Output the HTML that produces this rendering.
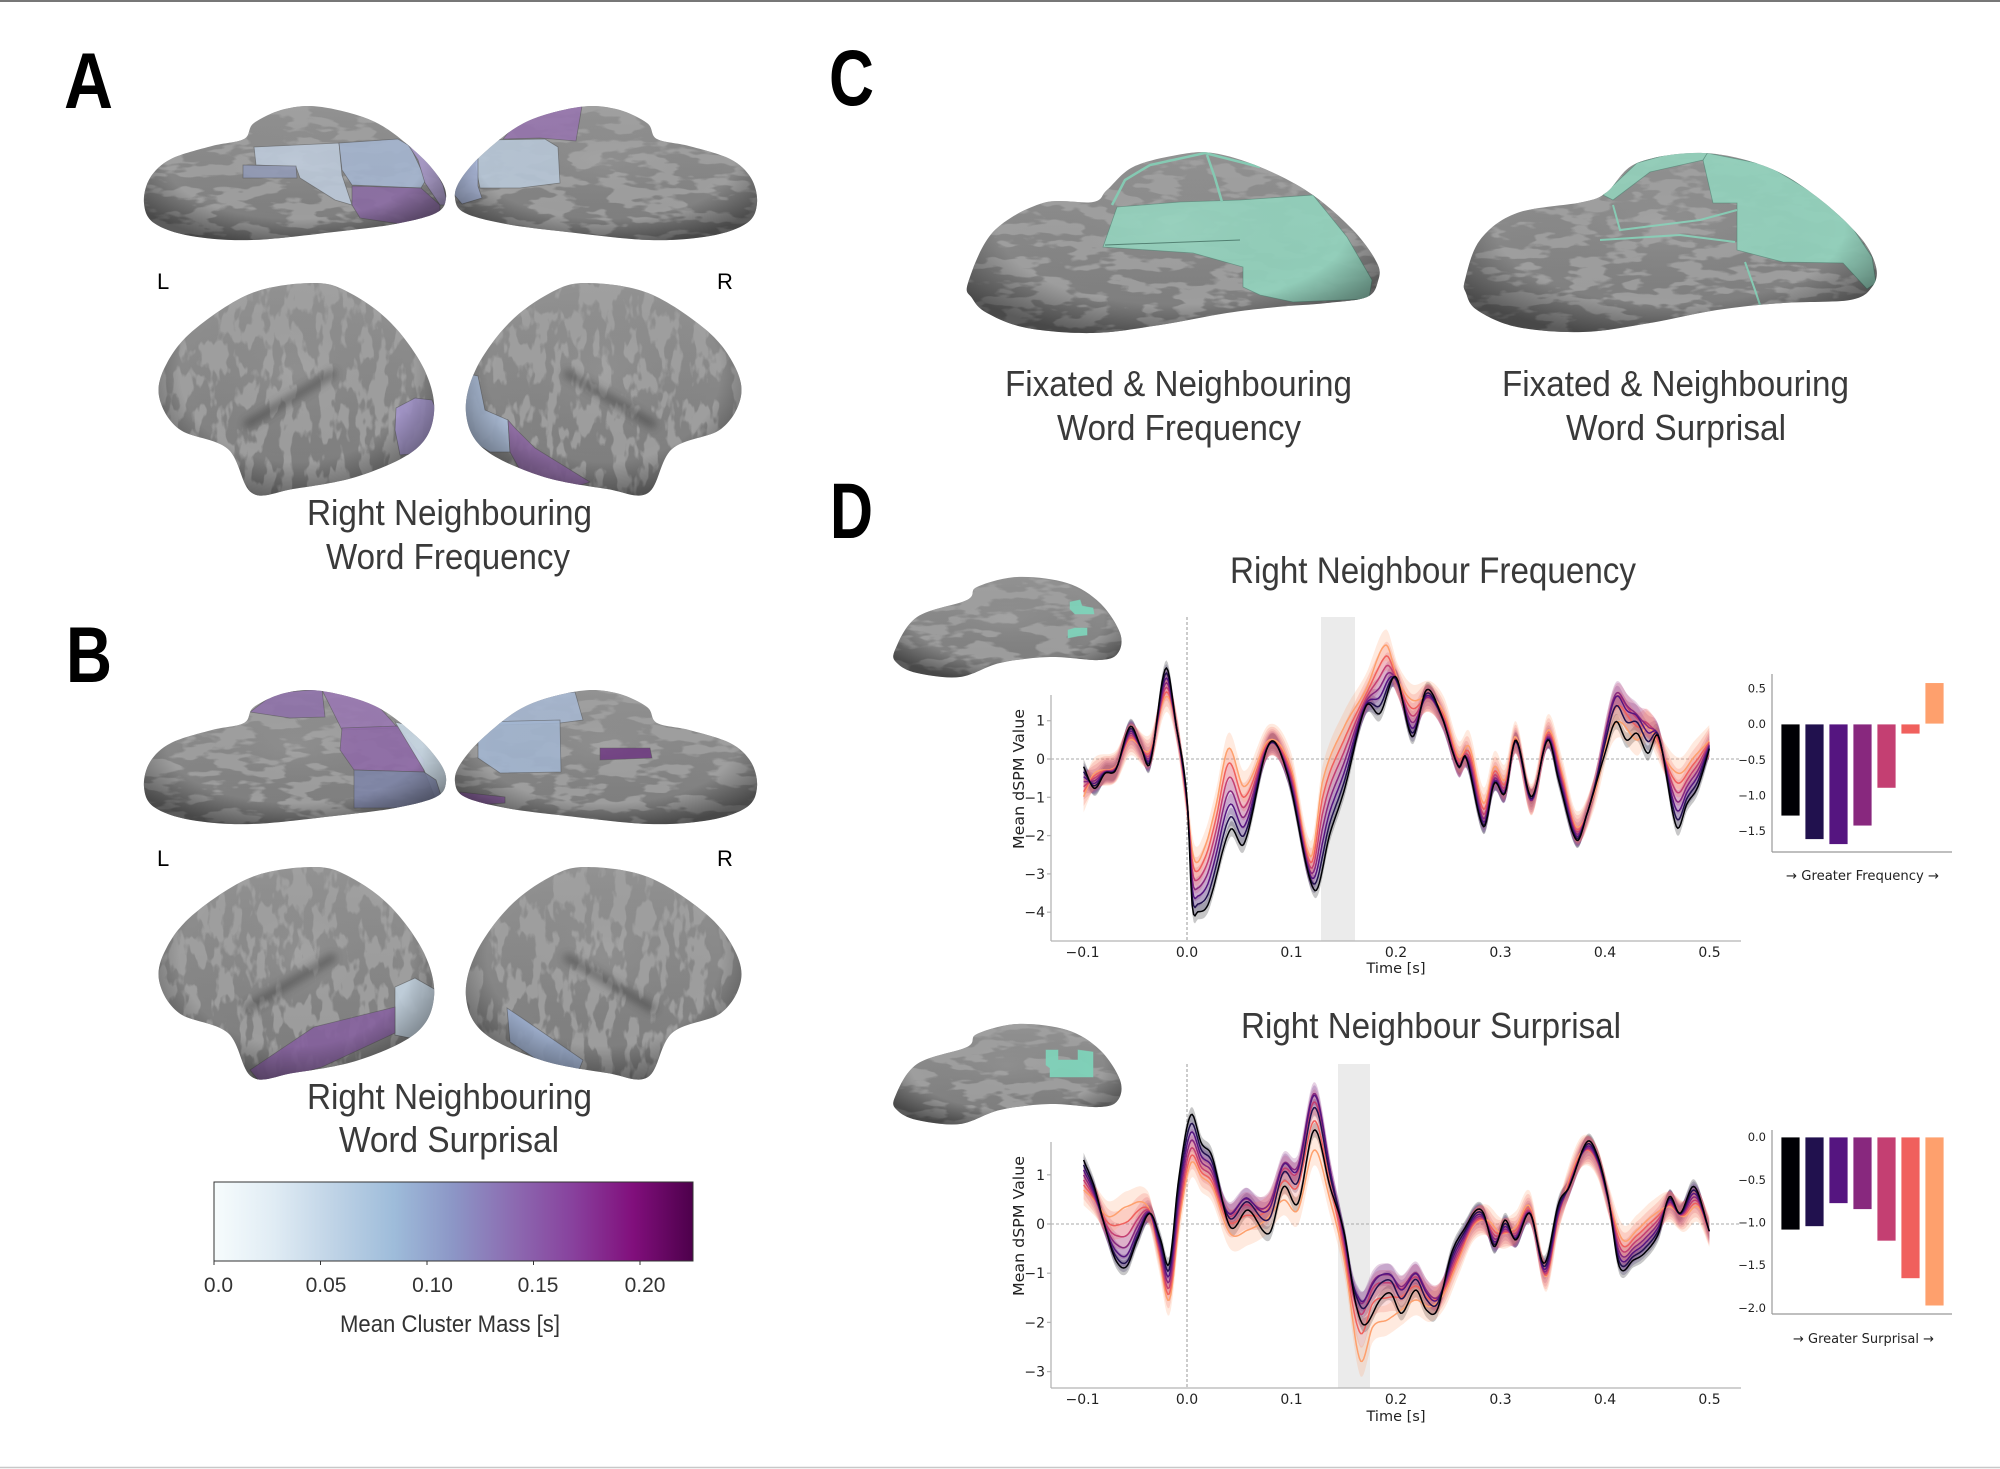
<!DOCTYPE html>
<html><head><meta charset="utf-8">
<style>html,body{margin:0;padding:0;background:#fff}svg{display:block}</style>
</head>
<body>
<svg id="s" xmlns="http://www.w3.org/2000/svg" width="2000" height="1469" viewBox="0 0 2000 1469">
<defs id="defs">
 <linearGradient id="bupu" x1="0" x2="1" y1="0" y2="0">
  <stop offset="0" stop-color="#f7fcfd"/><stop offset="0.125" stop-color="#e0ecf4"/>
  <stop offset="0.25" stop-color="#bfd3e6"/><stop offset="0.375" stop-color="#9ebcda"/>
  <stop offset="0.5" stop-color="#8c96c6"/><stop offset="0.625" stop-color="#8c6bb1"/>
  <stop offset="0.75" stop-color="#88419d"/><stop offset="0.875" stop-color="#810f7c"/>
  <stop offset="1" stop-color="#4d004b"/>
 </linearGradient>
 <linearGradient id="gb" x1="0" y1="0" x2="0" y2="1"><stop offset="0" stop-color="#929292"/><stop offset="1" stop-color="#7b7b7b"/></linearGradient>
 <radialGradient id="sh" cx="0.5" cy="0.42" r="0.62"><stop offset="0" stop-color="#fff" stop-opacity="0.05"/><stop offset="0.68" stop-color="#000" stop-opacity="0"/><stop offset="1" stop-color="#000" stop-opacity="0.42"/></radialGradient>
 <filter id="tx1" x="-5%" y="-5%" width="110%" height="110%"><feTurbulence type="fractalNoise" baseFrequency="0.028 0.085" numOctaves="3" seed="3"/><feColorMatrix type="matrix" values="0 0 0 0 0.37  0 0 0 0 0.37  0 0 0 0 0.37  11 0 0 0 -5.3"/><feComposite in2="SourceGraphic" operator="in"/></filter>
 <filter id="tx2" x="-5%" y="-5%" width="110%" height="110%"><feTurbulence type="fractalNoise" baseFrequency="0.075 0.032" numOctaves="3" seed="11"/><feColorMatrix type="matrix" values="0 0 0 0 0.37  0 0 0 0 0.37  0 0 0 0 0.37  11 0 0 0 -5.3"/><feComposite in2="SourceGraphic" operator="in"/></filter>
 <filter id="bl" x="-30%" y="-30%" width="160%" height="160%"><feGaussianBlur stdDeviation="4"/></filter>
</defs>
<rect x="0" y="0" width="2000" height="1469" fill="#fff"/>
<line x1="0" y1="1" x2="2000" y2="1" stroke="#777" stroke-width="2"/>
<line x1="0" y1="1467.5" x2="2000" y2="1467.5" stroke="#c8c8c8" stroke-width="1.5"/>

<g id="brains"></g>

<!-- panel letters -->
<g font-family="Liberation Sans, Arial, sans-serif" font-weight="bold" fill="#000" font-size="79">
 <text x="64" y="108" textLength="49" lengthAdjust="spacingAndGlyphs">A</text>
 <text x="66" y="682" textLength="46" lengthAdjust="spacingAndGlyphs">B</text>
 <text x="829" y="105" textLength="45" lengthAdjust="spacingAndGlyphs">C</text>
 <text x="830" y="538" textLength="43" lengthAdjust="spacingAndGlyphs">D</text>
</g>
<g font-family="Liberation Sans, Arial, sans-serif" fill="#000" font-size="22">
 <text x="157" y="289">L</text><text x="717" y="289">R</text>
 <text x="157" y="866">L</text><text x="717" y="866">R</text>
</g>
<g font-family="Liberation Sans, Arial, sans-serif" fill="#3a3a3a" font-size="36">
 <text x="307" y="525" textLength="285" lengthAdjust="spacingAndGlyphs">Right Neighbouring</text>
 <text x="326" y="569" textLength="244" lengthAdjust="spacingAndGlyphs">Word Frequency</text>
 <text x="307" y="1109" textLength="285" lengthAdjust="spacingAndGlyphs">Right Neighbouring</text>
 <text x="339" y="1152" textLength="220" lengthAdjust="spacingAndGlyphs">Word Surprisal</text>
 <text x="1005" y="396" textLength="347" lengthAdjust="spacingAndGlyphs">Fixated &amp; Neighbouring</text>
 <text x="1057" y="440" textLength="244" lengthAdjust="spacingAndGlyphs">Word Frequency</text>
 <text x="1502" y="396" textLength="347" lengthAdjust="spacingAndGlyphs">Fixated &amp; Neighbouring</text>
 <text x="1566" y="440" textLength="220" lengthAdjust="spacingAndGlyphs">Word Surprisal</text>
 <text x="1230" y="583" font-size="37" textLength="406" lengthAdjust="spacingAndGlyphs">Right Neighbour Frequency</text>
 <text x="1241" y="1038" font-size="36" textLength="380" lengthAdjust="spacingAndGlyphs">Right Neighbour Surprisal</text>
</g>

<!-- colorbar -->
<rect x="214" y="1182" width="479" height="79" fill="url(#bupu)" stroke="#333" stroke-width="1"/>
<g stroke="#333" stroke-width="1">
 <line x1="214" y1="1261" x2="214" y2="1265"/><line x1="320.5" y1="1261" x2="320.5" y2="1265"/>
 <line x1="427" y1="1261" x2="427" y2="1265"/><line x1="533.5" y1="1261" x2="533.5" y2="1265"/>
 <line x1="640" y1="1261" x2="640" y2="1265"/>
</g>
<g font-family="Liberation Sans, Arial, sans-serif" fill="#333" font-size="21" text-anchor="middle">
 <text x="218.5" y="1292">0.0</text><text x="326" y="1292">0.05</text><text x="432.5" y="1292">0.10</text>
 <text x="538" y="1292">0.15</text><text x="645" y="1292">0.20</text>
</g>
<text x="340" y="1332" font-family="Liberation Sans, Arial, sans-serif" fill="#333" font-size="24" textLength="220" lengthAdjust="spacingAndGlyphs">Mean Cluster Mass [s]</text>

<!-- top chart -->
<rect x="1321" y="617" width="34" height="324" fill="#ebebeb"/>
<line x1="1187" y1="617" x2="1187" y2="941" stroke="#999" stroke-width="1" stroke-dasharray="3,2"/>
<line x1="1051" y1="759" x2="1741" y2="759" stroke="#aaa" stroke-width="1" stroke-dasharray="3,2"/>
<g id="curvesTop"></g>
<g stroke="#b5b5b5" stroke-width="1.3" fill="none">
 <line x1="1051" y1="695" x2="1051" y2="941"/><line x1="1051" y1="941" x2="1741" y2="941"/>
 <line x1="1047" y1="720.7" x2="1051" y2="720.7"/><line x1="1047" y1="759" x2="1051" y2="759"/>
 <line x1="1047" y1="797.3" x2="1051" y2="797.3"/><line x1="1047" y1="835.6" x2="1051" y2="835.6"/>
 <line x1="1047" y1="873.9" x2="1051" y2="873.9"/><line x1="1047" y1="912.2" x2="1051" y2="912.2"/>
</g>
<g font-family="DejaVu Sans, Liberation Sans, sans-serif" fill="#222" font-size="14">
 <g text-anchor="end">
  <text x="1045" y="725.7">1</text><text x="1045" y="764">0</text><text x="1045" y="802.3">−1</text>
  <text x="1045" y="840.6">−2</text><text x="1045" y="878.9">−3</text><text x="1045" y="917.2">−4</text>
 </g>
 <g text-anchor="middle">
  <text x="1082.5" y="957">−0.1</text><text x="1187" y="957">0.0</text><text x="1291.5" y="957">0.1</text>
  <text x="1396" y="957">0.2</text><text x="1500.5" y="957">0.3</text><text x="1605" y="957">0.4</text><text x="1709.5" y="957">0.5</text>
  <text x="1396" y="973" font-size="14.5">Time [s]</text>
 </g>
 <text transform="translate(1024,779) rotate(-90)" x="-70" y="0" font-size="15" textLength="140" lengthAdjust="spacingAndGlyphs">Mean dSPM Value</text>
</g>

<!-- bottom chart -->
<rect x="1338" y="1064" width="32" height="324" fill="#ebebeb"/>
<line x1="1187" y1="1064" x2="1187" y2="1388" stroke="#999" stroke-width="1" stroke-dasharray="3,2"/>
<line x1="1051" y1="1224" x2="1741" y2="1224" stroke="#aaa" stroke-width="1" stroke-dasharray="3,2"/>
<g id="curvesBot"></g>
<g stroke="#b5b5b5" stroke-width="1.3" fill="none">
 <line x1="1051" y1="1142" x2="1051" y2="1388"/><line x1="1051" y1="1388" x2="1741" y2="1388"/>
 <line x1="1047" y1="1174.8" x2="1051" y2="1174.8"/><line x1="1047" y1="1224" x2="1051" y2="1224"/>
 <line x1="1047" y1="1273.2" x2="1051" y2="1273.2"/><line x1="1047" y1="1322.4" x2="1051" y2="1322.4"/>
 <line x1="1047" y1="1371.6" x2="1051" y2="1371.6"/>
</g>
<g font-family="DejaVu Sans, Liberation Sans, sans-serif" fill="#222" font-size="14">
 <g text-anchor="end">
  <text x="1045" y="1179.8">1</text><text x="1045" y="1229">0</text><text x="1045" y="1278.2">−1</text>
  <text x="1045" y="1327.4">−2</text><text x="1045" y="1376.6">−3</text>
 </g>
 <g text-anchor="middle">
  <text x="1082.5" y="1404">−0.1</text><text x="1187" y="1404">0.0</text><text x="1291.5" y="1404">0.1</text>
  <text x="1396" y="1404">0.2</text><text x="1500.5" y="1404">0.3</text><text x="1605" y="1404">0.4</text><text x="1709.5" y="1404">0.5</text>
  <text x="1396" y="1421" font-size="14.5">Time [s]</text>
 </g>
 <text transform="translate(1024,1226) rotate(-90)" x="-70" y="0" font-size="15" textLength="140" lengthAdjust="spacingAndGlyphs">Mean dSPM Value</text>
</g>

<!-- bar insets -->
<g id="bars"></g>
<g stroke="#999" stroke-width="1.2" fill="none">
 <line x1="1772" y1="674" x2="1772" y2="852"/><line x1="1772" y1="852" x2="1952" y2="852"/>
 <line x1="1772" y1="1130" x2="1772" y2="1314"/><line x1="1772" y1="1314" x2="1952" y2="1314"/>
</g>
<g font-family="DejaVu Sans, Liberation Sans, sans-serif" fill="#222" font-size="11.5" text-anchor="end">
 <text x="1766" y="692.5">0.5</text><text x="1766" y="728.2">0.0</text><text x="1766" y="763.9">−0.5</text>
 <text x="1766" y="799.5">−1.0</text><text x="1766" y="835.2">−1.5</text>
 <text x="1766" y="1141.2">0.0</text><text x="1766" y="1183.9">−0.5</text><text x="1766" y="1226.5">−1.0</text>
 <text x="1766" y="1269.2">−1.5</text><text x="1766" y="1311.8">−2.0</text>
</g>
<g font-family="DejaVu Sans, Liberation Sans, sans-serif" fill="#222" font-size="13">
 <text x="1786" y="880" textLength="153" lengthAdjust="spacingAndGlyphs">→ Greater Frequency →</text>
 <text x="1793" y="1343" textLength="141" lengthAdjust="spacingAndGlyphs">→ Greater Surprisal →</text>
</g>
</svg>

<script>
(function(){
var NS='http://www.w3.org/2000/svg';
var defs=document.getElementById('defs');
function el(tag,attrs,parent){var e=document.createElementNS(NS,tag);for(var k in attrs)e.setAttribute(k,attrs[k]);parent.appendChild(e);return e;}
var cols=['#000004','#21114e','#551580','#88287e','#c43f72','#f0605d','#fea06d'];

/* ---------- curves ---------- */
function slope(p,j){var n=p.length;if(j<=0)return (p[1][1]-p[0][1])/(p[1][0]-p[0][0]);if(j>=n-1)return (p[n-1][1]-p[n-2][1])/(p[n-1][0]-p[n-2][0]);return (p[j+1][1]-p[j-1][1])/(p[j+1][0]-p[j-1][0]);}
function interp(p,x){var n=p.length;if(x<=p[0][0])return p[0][1];if(x>=p[n-1][0])return p[n-1][1];var i=0;while(p[i+1][0]<x)i++;
 var x0=p[i][0],x1=p[i+1][0],y0=p[i][1],y1=p[i+1][1],h=x1-x0,s=(x-x0)/h,m0=slope(p,i)*h,m1=slope(p,i+1)*h;
 var s2=s*s,s3=s2*s;return (2*s3-3*s2+1)*y0+(s3-2*s2+s)*m0+(-2*s3+3*s2)*y1+(s3-s2)*m1;}
function chart(gid,D,L,B,y0,hwB,hwS){
 var g=document.getElementById(gid);var xs=[];for(var x=285;x<=1162;x+=2)xs.push(x);
 var dv=xs.map(function(x){return interp(D,x)}),lv=xs.map(function(x){return interp(L,x)}),bv=xs.map(function(x){return interp(B,x)});
 var ser=[];for(var k=0;k<7;k++){var s=k/6;ser.push(xs.map(function(x,i){return dv[i]+s*(lv[i]-dv[i])+4*s*(1-s)*bv[i];}));}
 function P(x,y){return (880+x/1.4).toFixed(1)+','+(y0+y/3).toFixed(1);}
 for(var k=0;k<7;k++){var hw=hwB+hwS*k,up=[],dn=[];for(var i=0;i<xs.length;i++){up.push(P(xs[i],ser[k][i]-hw));dn.push(P(xs[i],ser[k][i]+hw));}
  el('path',{d:'M'+up.join('L')+'L'+dn.reverse().join('L')+'Z',fill:cols[k],'fill-opacity':0.22},g);}
 for(var k=6;k>=0;k--){var pts=[];for(var i=0;i<xs.length;i++)pts.push(P(xs[i],ser[k][i]));
  el('path',{d:'M'+pts.join('L'),fill:'none',stroke:cols[k],'stroke-width':1.5,'stroke-linejoin':'round'},g);}
}
var TD=[[285,680],[300,745],[315,700],[330,690],[350,560],[365,620],[378,670],[400,385],[415,560],[430,780],[437,1095],[445,1115],[460,1090],[490,870],[510,910],[545,610],[570,700],[608,1050],[630,880],[650,750],[680,500],[700,520],[722,410],[745,590],[765,450],[785,520],[810,680],[820,650],[845,860],[860,730],[875,760],[890,600],[912,770],[935,600],[950,720],[975,900],[990,820],[1015,640],[1030,545],[1045,600],[1060,580],[1075,640],[1090,590],[1115,860],[1130,790],[1145,740],[1162,620]];
var TL=[[285,770],[300,700],[330,680],[350,600],[378,630],[400,470],[415,560],[430,800],[440,960],[455,920],[470,800],[488,625],[510,740],[545,600],[575,680],[603,950],[620,720],[650,560],[680,450],[708,315],[725,420],[745,480],[770,470],[790,520],[810,650],[825,620],[845,790],[860,680],[875,720],[890,590],[912,780],[935,570],[955,700],[975,860],[1000,760],[1020,590],[1035,545],[1060,600],[1075,560],[1100,660],[1120,700],[1140,650],[1162,600]];
var TB=[[285,0],[990,0],[1035,-90],[1075,-40],[1100,0],[1162,0]];
var BD=[[285,480],[300,560],[315,680],[330,780],[345,800],[360,720],[378,640],[393,720],[405,790],[418,540],[435,345],[450,430],[465,470],[490,680],[515,630],[545,700],[565,560],[585,610],[608,390],[630,560],[650,700],[665,900],[678,975],[700,900],[715,880],[730,940],[750,870],[765,930],[780,930],[800,760],[820,680],[835,630],[845,640],[860,740],[875,660],[890,720],[910,640],[930,790],[950,610],[965,560],[990,425],[1005,470],[1020,600],[1035,800],[1055,780],[1070,760],[1090,700],[1105,590],[1120,640],[1140,560],[1162,700]];
var BL=[[285,570],[300,600],[320,650],[345,620],[375,620],[390,760],[405,900],[420,650],[435,490],[450,530],[465,560],[490,700],[515,690],[540,660],[565,600],[585,630],[608,450],[630,600],[650,780],[672,1080],[690,980],[710,960],[730,930],[750,900],[770,920],[790,880],[810,780],[830,680],[850,660],[870,700],[890,680],[910,620],[932,830],[950,650],[975,480],[990,450],[1005,490],[1020,600],[1040,720],[1060,690],[1080,650],[1105,620],[1125,650],[1145,620],[1162,700]];
var BB=[[285,0],[330,20],[345,30],[380,0],[470,0],[500,-70],[530,-50],[565,-90],[608,-140],[640,-40],[655,-20],[672,-110],[690,-115],[730,-75],[760,-60],[800,0],[1162,0]];
chart('curvesTop',TD,TL,TB,540,23,4);
chart('curvesBot',BD,BL,BB,1000,22,4);

/* ---------- bars ---------- */
var bg=document.getElementById('bars');var bx=[1781,1805,1829,1853,1877,1901,1925];
var tv=[-1.29,-1.62,-1.69,-1.43,-0.90,-0.14,0.58],bvv=[-1.09,-1.05,-0.78,-0.85,-1.22,-1.66,-1.98];
for(var i=0;i<7;i++){
 var z=724,sc=71.3,v=tv[i];el('rect',{x:bx[i],y:v<0?z:z-v*sc,width:19,height:Math.abs(v)*sc,fill:cols[i],stroke:'#fff','stroke-width':0.8},bg);
 z=1137;sc=85.3;v=bvv[i];el('rect',{x:bx[i],y:z,width:19,height:Math.abs(v)*sc,fill:cols[i],stroke:'#fff','stroke-width':0.8},bg);
}

/* ---------- brains ---------- */
var layer=document.getElementById('brains');var bid=0;
function f(v){return v.toFixed(1);}
function cr(p){var n=p.length,d='M'+p[0][0]+','+p[0][1];for(var i=0;i<n;i++){var p0=p[(i-1+n)%n],p1=p[i],p2=p[(i+1)%n],p3=p[(i+2)%n];
 d+='C'+f(p1[0]+(p2[0]-p0[0])/6)+','+f(p1[1]+(p2[1]-p0[1])/6)+' '+f(p2[0]-(p3[0]-p1[0])/6)+','+f(p2[1]-(p3[1]-p1[1])/6)+' '+p2[0]+','+p2[1];}return d+'Z';}
function brain(pts,regions,tex,creases){
 var d=cr(pts),id='cb'+(bid++);var g=el('g',{},layer);
 var cp=el('clipPath',{id:id},defs);el('path',{d:d},cp);
 el('path',{d:d,fill:'url(#gb)'},g);
 el('path',{d:d,fill:'#000',filter:'url(#'+(tex||'tx1')+')',opacity:0.85},g);
 var rg=el('g',{'clip-path':'url(#'+id+')'},g);
 (creases||[]).forEach(function(c){el('path',{d:c,fill:'none',stroke:'#333','stroke-width':9,'stroke-linecap':'round',opacity:0.45,filter:'url(#bl)'},rg);});
 (regions||[]).forEach(function(r){
  if(r.line)el('path',{d:r.line,fill:'none',stroke:r.c,'stroke-width':r.w||2},rg);
  else el('polygon',{points:r.p.map(function(q){return q.join(',')}).join(' '),fill:r.c,'fill-opacity':r.o||0.88,stroke:r.s||'#555','stroke-width':0.8,'stroke-opacity':0.6},rg);
 });
 el('path',{d:d,fill:'url(#sh)'},g);
}
function mx(p,c){return p.map(function(q){return [c-q[0],q[1]]});}
function sy(p,dy){return p.map(function(q){return [q[0],q[1]+dy]});}
function crL(dy){return 'M'+(332)+','+(958+dy)+' Q292,'+(982+dy)+' 248,'+(1008+dy);}
function crR(dy){return 'M'+(568)+','+(958+dy)+' Q608,'+(982+dy)+' 652,'+(1008+dy);}

var TOPL=[[144,787],[150,762],[171,743],[212,730],[244,723],[254,707],[285,693],[322,691],[375,706],[416,736],[440,763],[446,782],[436,797],[395,808],[334,816],[252,824],[191,820],[154,807]];
var LATL=[[159,980],[179,1013],[228,1033],[252,1077],[293,1073],[359,1060],[416,1033],[434,997],[424,953],[391,907],[350,877],[314,867],[252,877],[195,913],[167,947]];

/* Panel A */
brain(sy(TOPL,-584),[
 {p:[[254,147],[339,143],[342,175],[352,205],[335,200],[300,178],[296,167],[256,165]],c:'#bdcbdc'},
 {p:[[339,143],[398,139],[410,146],[426,180],[421,188],[352,185],[342,170]],c:'#a5b6d1'},
 {p:[[243,165],[296,166],[297,178],[243,178]],c:'#8f98b6'},
 {p:[[352,186],[421,188],[440,205],[440,222],[400,224],[360,218],[352,205]],c:'#8a6aa3'},
 {p:[[405,140],[425,150],[443,185],[448,205],[440,205],[425,183],[418,160]],c:'#a998ca'}
],'tx1');
brain(mx(sy(TOPL,-584),901),[
 {p:[[503,139],[520,118],[550,106],[582,106],[576,141],[540,138]],c:'#9674ae'},
 {p:[[480,140],[545,139],[558,147],[560,183],[520,188],[480,188],[475,165]],c:'#b8c8da'},
 {p:[[450,165],[478,148],[478,186],[482,198],[462,204],[450,190]],c:'#a7b5d8'}
],'tx1');
brain(sy(LATL,-584),[
 {p:[[396,408],[415,398],[432,400],[445,430],[432,452],[400,455],[395,430]],c:'#a394cc'}
],'tx2',[crL(-584)]);
brain(mx(sy(LATL,-584),900),[
 {p:[[460,372],[478,376],[485,410],[508,420],[510,452],[490,452],[470,440],[458,410]],c:'#aabcd8'},
 {p:[[508,420],[515,428],[535,448],[590,482],[560,492],[520,470],[510,452]],c:'#8c67a3'}
],'tx2',[crR(-584)]);

/* Panel B */
brain(TOPL,[
 {p:[[250,712],[275,693],[322,689],[325,717],[290,718]],c:'#9072ab'},
 {p:[[322,690],[372,699],[398,728],[342,730]],c:'#9a78b3'},
 {p:[[342,728],[398,726],[424,760],[424,772],[354,770],[340,750]],c:'#8f6aa9'},
 {p:[[395,722],[420,728],[448,760],[450,800],[436,800],[424,770]],c:'#c9d9e6'},
 {p:[[354,770],[424,772],[436,780],[445,808],[354,808]],c:'#7e85a8'}
],'tx1');
brain(mx(TOPL,901),[
 {p:[[501,696],[575,692],[583,720],[560,723],[500,725],[490,715]],c:'#a7b8d3'},
 {p:[[478,722],[560,720],[561,772],[500,773],[478,758]],c:'#a3b6d2'},
 {p:[[600,748],[650,748],[652,758],[600,760]],c:'#6e3b80',o:0.95},
 {p:[[460,792],[505,797],[505,803],[460,806]],c:'#8a5fa0'}
],'tx1');
brain(LATL,[
 {p:[[395,987],[415,978],[436,990],[440,1030],[420,1040],[395,1035]],c:'#c3d3e0'},
 {p:[[250,1070],[314,1027],[395,1007],[395,1033],[322,1067],[262,1085]],c:'#85609e'}
],'tx2',[crL(0)]);
brain(mx(LATL,900),[
 {p:[[507,1008],[522,1018],[583,1060],[579,1070],[545,1065],[510,1042]],c:'#9aaccd'}
],'tx2',[crR(0)]);

/* Panel C */
var CL=[[968,283],[993,232],[1043,203],[1093,202],[1107,190],[1133,167],[1177,155],[1213,153],[1260,167],[1310,193],[1353,230],[1377,263],[1378,281],[1367,297],[1327,303],[1277,307],[1227,313],[1160,325],[1093,333],[1027,328],[987,313],[972,298]];
brain(CL,[
 {p:[[1103,247],[1117,207],[1180,202],[1240,200],[1313,195],[1347,237],[1372,280],[1369,299],[1293,302],[1260,295],[1243,287],[1243,267],[1193,253]],c:'#93d3bd',o:0.92,s:'#4f7f70'},
 {line:'M1112,205 L1125,180 L1150,165 L1205,153 L1260,167',c:'#86cbb4',w:2.5},
 {line:'M1207,155 L1215,178 L1222,202',c:'#86cbb4',w:2.5},
 {line:'M1105,245 L1240,240',c:'#4f7f70',w:1}
],'tx1');
var CR=[[1465,280],[1480,240],[1517,213],[1583,202],[1607,192],[1637,163],[1703,153],[1767,167],[1817,197],[1860,237],[1876,267],[1872,287],[1850,300],[1783,303],[1717,310],[1650,323],[1583,332],[1517,327],[1477,310],[1466,293]];
brain(CR,[
 {p:[[1707,153],[1767,165],[1817,195],[1852,227],[1872,257],[1876,283],[1867,289],[1843,263],[1783,262],[1737,250],[1737,203],[1713,203],[1703,160]],c:'#93d3bd',o:0.92,s:'#4f7f70'},
 {p:[[1603,195],[1637,163],[1680,151],[1708,152],[1703,160],[1650,172],[1613,200]],c:'#93d3bd',o:0.9,s:'#4f7f70'},
 {line:'M1613,205 L1620,230 L1700,220 L1737,210',c:'#86cbb4',w:2},
 {line:'M1600,240 L1680,235 L1735,242',c:'#86cbb4',w:2},
 {line:'M1745,262 L1755,290 L1760,305',c:'#86cbb4',w:2}
],'tx1');

/* Panel D brains */
var DB=[[895,650],[917,617],[967,600],[977,587],[1017,577],[1067,583],[1100,603],[1120,633],[1118,653],[1100,660],[1050,657],[1000,663],[960,677],[917,673],[897,663]];
brain(DB,[
 {p:[[1070,602],[1080,600],[1082,606],[1093,608],[1094,614],[1075,614],[1070,609]],c:'#7fd4ba',o:0.95,s:'#7fd4ba'},
 {p:[[1068,630],[1075,628],[1087,628],[1087,635],[1078,636],[1068,638]],c:'#7fd4ba',o:0.95,s:'#7fd4ba'}
],'tx1');
brain(sy(DB,447),[
 {p:[[1046,1050],[1058,1050],[1058,1060],[1078,1060],[1078,1050],[1093,1052],[1093,1077],[1050,1077],[1050,1068],[1046,1065]],c:'#7fd4ba',o:0.95,s:'#7fd4ba'}
],'tx1');
})();
</script>
</body></html>
